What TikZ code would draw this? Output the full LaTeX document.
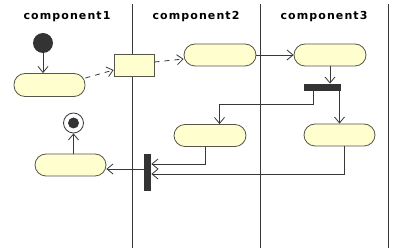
\documentclass[tikz,border=0pt]{standalone}
\usepackage{fontspec}
\newfontfamily\titrefont[LetterSpace=10]{DejaVu Sans}
\usetikzlibrary{arrows.meta,calc}
\definecolor{fond}{HTML}{FEFECE}
\definecolor{trait}{HTML}{383838}
\definecolor{bord}{HTML}{55554A}
\definecolor{barre}{HTML}{333333}

\begin{document}
\begin{tikzpicture}[x=1pt, y=-1pt, line width=0.8pt, trait,
	fleche/.style={-{Straight Barb[length=6pt,width=10pt]}},
	pointille/.style={dash pattern=on 5pt off 5pt},
	activite/.style={draw=bord, fill=fond, rounded corners=11pt, minimum width=72pt, minimum height=22pt, inner sep=0pt},
	objet/.style={draw=bord, fill=fond, minimum width=40pt, minimum height=22pt, inner sep=0pt},
	barrebox/.style={fill=barre, inner sep=0pt},
	titre/.style={anchor=base, font=\titrefont\bfseries\fontsize{11}{13}\selectfont, text=black}]
	\useasboundingbox (0,0) rectangle (416,248);
	% Couloirs
	\foreach \x in {132,260,388} \draw (\x,4) -- (\x,248);
	\node[titre] (t1) at (67,20) {component1};
	\node[titre] (t2) at (196,20) {component2};
	\node[titre] (t3) at (324,20) {component3};
	% Noeuds
	\node[circle, fill=barre, minimum size=20pt, inner sep=0pt] (debut) at (43,43) {};
	\node[activite, minimum width=71pt, minimum height=23pt] (a1) at (49.5,85) {};
	\node[objet] (obj) at (134,65) {};
	\node[activite] (a2) at (220,55) {};
	\node[activite] (a3) at (330,55) {};
	\node[barrebox, minimum width=37pt, minimum height=7pt] (fork) at (322.5,87.5) {};
	\node[activite] (a4) at (210,135.5) {};
	\node[activite, minimum width=71pt] (a5) at (339.5,135) {};
	\node[barrebox, minimum width=7pt, minimum height=37pt] (join) at (147.5,172.5) {};
	\node[activite, minimum width=71pt] (a6) at (70.5,165) {};
	\node[circle, draw=trait, fill=white, minimum size=20pt, inner sep=0pt] (fin) at (73.5,123) {};
	\fill[barre] (fin.center) circle (5.5);
	% Transitions
	\draw[fleche] (debut) -- (debut |- a1.north);
	\draw[fleche, pointille] ($(a1.east)+(0,-7)$) -- ($(obj.west)+(0,5)$);
	\draw[fleche, pointille] ($(obj.east)+(0,-3)$) -- ($(a2.west)+(0,4)$);
	\draw[fleche] (a2) -- (a3);
	\draw[fleche] (a3.south) -- (a3.south |- fork.north);
	\draw[fleche] ($(fork.south west)+(10,0)$) -- ++(0,13) -| ($(a4.north)+(9.5,0)$);
	\draw[fleche] (a5.north |- fork.south) -- (a5.north);
	\draw[fleche] ($(a4.south)+(-5,0)$) |- ($(join.east)+(0,-8.5)$);
	\draw[fleche] ($(a5.south)+(4.5,0)$) |- ($(join.east)+(0,1.5)$);
	\draw[fleche] ($(join.west)+(0,-3.5)$) -- ($(a6.east)+(0,4)$);
	\draw[fleche] (fin.south |- a6.north) -- (fin.south);
\end{tikzpicture}
\end{document}
